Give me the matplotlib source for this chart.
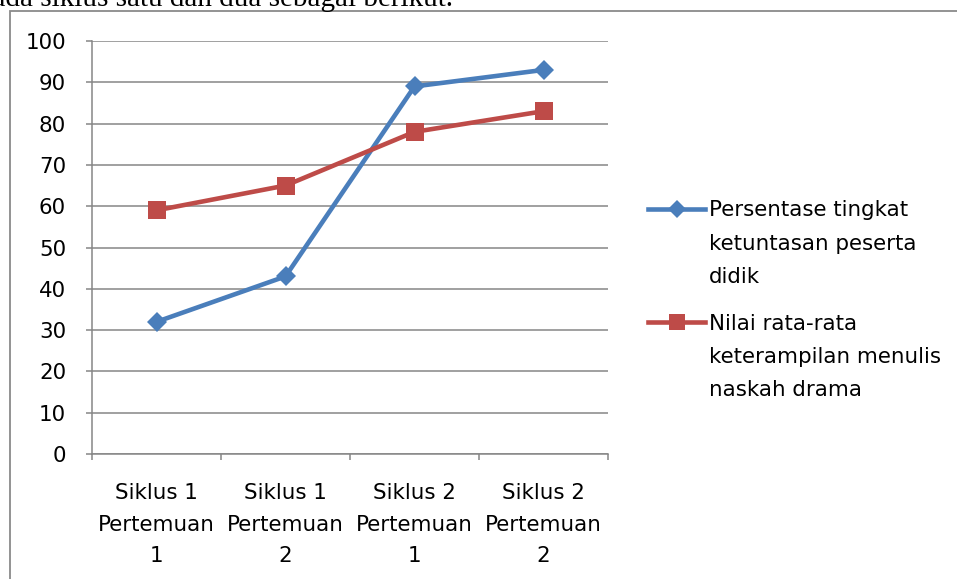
import matplotlib
matplotlib.use("Agg")
import matplotlib.pyplot as plt
from matplotlib.lines import Line2D
from matplotlib.patches import Rectangle

categories = ["Siklus 1\nPertemuan\n1", "Siklus 1\nPertemuan\n2",
              "Siklus 2\nPertemuan\n1", "Siklus 2\nPertemuan\n2"]
ketuntasan = [32, 43, 89, 93]
nilai_rata = [59, 65, 78, 83]
series_names = ["Persentase tingkat\nketuntasan peserta\ndidik",
                "Nilai rata-rata\nketerampilan menulis\nnaskah drama"]
yticks = [0, 10, 20, 30, 40, 50, 60, 70, 80, 90, 100]

W, H = 957, 579
BLUE = "#4A7EBB"
RED = "#BE4B48"
GRID = "#868686"
FONT = "DejaVu Sans"
FS = 15.4

plt.rcParams['font.family'] = [FONT]

fig = plt.figure(figsize=(W / 100, H / 100), dpi=100)

def fx(px):
    return px / W

def fy(py):
    return 1 - py / H

# cut-off sentence at the top of the page
fig.text(fx(453), fy(5.5), "pada siklus satu dan dua sebagai berikut.",
         ha="right", va="baseline", family="Liberation Serif", fontsize=21,
         color="black")

# chart border
fig.patches.append(Rectangle((fx(10), fy(700)), fx(1000), fy(11) - fy(700),
                             transform=fig.transFigure, fill=False,
                             edgecolor="#8A8A8A", linewidth=1.3))

ax = fig.add_axes([fx(92), fy(454), fx(608) - fx(92), fy(41) - fy(454)])
x = list(range(len(categories)))
ax.plot(x, ketuntasan, color=BLUE, linewidth=3.3, marker="D", markersize=10,
        markeredgewidth=0, zorder=3)
ax.plot(x, nilai_rata, color=RED, linewidth=3.3, marker="s", markersize=13.5,
        markeredgewidth=0, zorder=3)

ax.set_xlim(-0.5, len(categories) - 0.5)
ax.set_ylim(0, 100)
ax.set_yticks(yticks)
ax.set_yticklabels([str(v) for v in yticks], fontsize=FS)
ax.yaxis.grid(True, color=GRID, linewidth=1.1)
ax.set_axisbelow(True)

ax.set_xticks([i - 0.5 for i in range(len(categories) + 1)])
ax.set_xticklabels([])
ax.set_xticks(x, minor=True)
ax.set_xticklabels(categories, minor=True, fontsize=FS, linespacing=1.73)
ax.tick_params(axis="x", which="major", length=4.3, color=GRID, width=1.1)
ax.tick_params(axis="x", which="minor", length=0, pad=20.8)
ax.tick_params(axis="y", length=4.3, color=GRID, width=1.1, pad=14.4)

for s in ["top", "right"]:
    ax.spines[s].set_visible(False)
for s in ["left", "bottom"]:
    ax.spines[s].set_color(GRID)
    ax.spines[s].set_linewidth(1.1)

# legend drawn on the figure
leg = [(209, BLUE, "D", 9, series_names[0]),
       (322, RED, "s", 12, series_names[1])]
for py, c, m, ms, label in leg:
    fig.add_artist(Line2D([fx(648), fx(705)], [fy(py), fy(py)],
                          transform=fig.transFigure, color=c, linewidth=3.3))
    fig.add_artist(Line2D([fx(677)], [fy(py)], transform=fig.transFigure,
                          color=c, marker=m, markersize=ms, markeredgewidth=0))
    fig.text(fx(709), fy(py - 8.5), label, ha="left", va="top", fontsize=FS,
             linespacing=1.84, transform=fig.transFigure)

fig.savefig("out.png", dpi=100)
